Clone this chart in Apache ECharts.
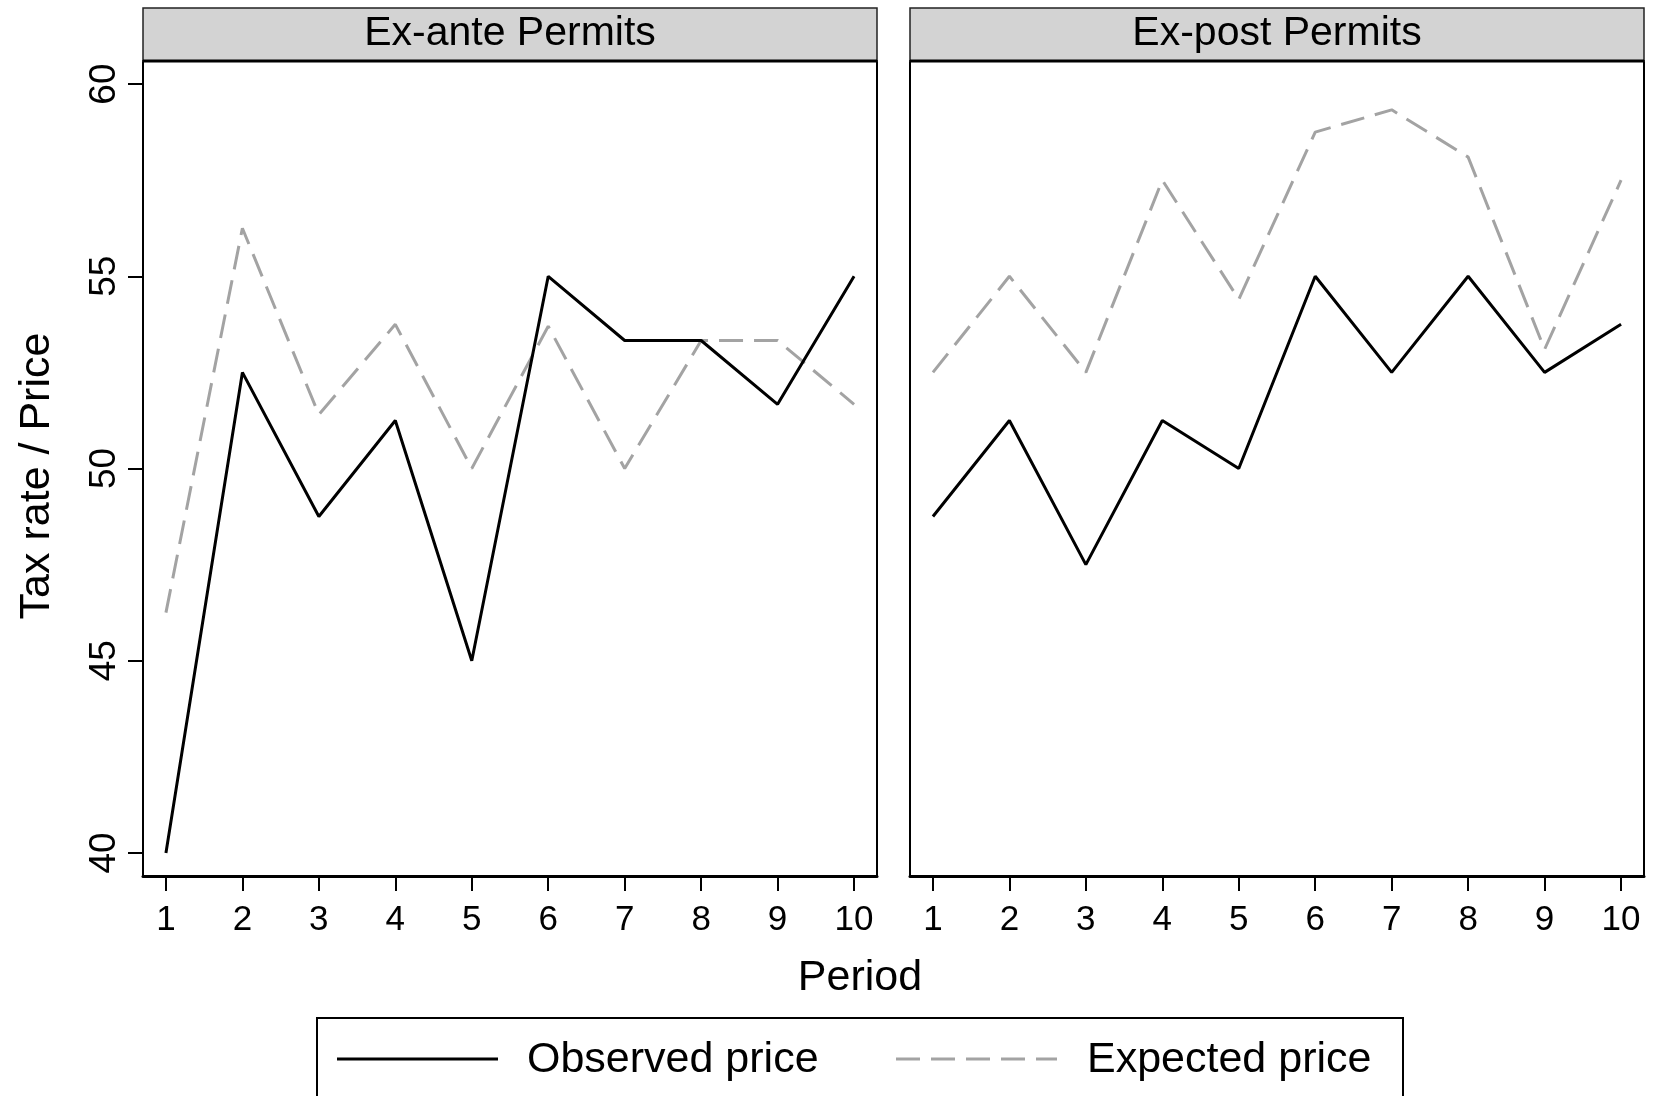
<!DOCTYPE html>
<html>
<head>
<meta charset="utf-8">
<title>Tax rate / Price by Period</title>
<script src="https://cdn.jsdelivr.net/npm/echarts@6/dist/echarts.min.js"></script>
<style>
  html, body { margin: 0; padding: 0; background: #fff; }
  #chart { width: 1653px; height: 1096px; }
</style>
</head>
<body>
<div id="chart"></div>
<script>
// Periods on the x axis
const periods = [1, 2, 3, 4, 5, 6, 7, 8, 9, 10];
const yTicks = [40, 45, 50, 55, 60];

// Ex-ante permits
const exAnteObserved = [40, 52.5, 48.75, 51.25, 45, 55, 53.33, 53.33, 51.67, 55];
const exAnteExpected = [46.25, 56.25, 51.4, 53.75, 50, 53.7, 50, 53.33, 53.33, 51.67];

// Ex-post permits
const exPostObserved = [48.75, 51.25, 47.5, 51.25, 50, 55, 52.5, 55, 52.5, 53.75];
const exPostExpected = [52.5, 55, 52.5, 57.5, 54.4, 58.75, 59.33, 58.1, 53.1, 57.5];

const panelTitles = ['Ex-ante Permits', 'Ex-post Permits'];
const seriesNames = ['Observed price', 'Expected price'];

const FONT = '"Liberation Sans", Arial, Helvetica, sans-serif';
const OBS_COLOR = '#000000';
const EXP_COLOR = '#a3a3a3';
const DASH = [24, 11];

const pairs = (vals) => periods.map((p, i) => [p, vals[i]]);

const panels = [
  { left: 143, top: 61, width: 734, height: 815 },
  { left: 910, top: 61, width: 734, height: 815 }
];

function xAxisFor(idx) {
  return {
    type: 'value', gridIndex: idx, min: 0.7, max: 10.3,
    splitLine: { show: false },
    axisLine: { show: true, onZero: false, lineStyle: { color: '#000', width: 3 } },
    axisTick: { show: true, length: 15, customValues: periods, lineStyle: { color: '#000', width: 2 } },
    axisLabel: { show: true, customValues: periods, margin: 27, color: '#000', fontSize: 35, fontFamily: FONT }
  };
}
function yAxisFor(idx, labelled) {
  return {
    type: 'value', gridIndex: idx, min: 39.4, max: 60.6,
    splitLine: { show: false },
    axisLine: { show: labelled, onZero: false, lineStyle: { color: '#000', width: 2 } },
    axisTick: { show: labelled, length: 15, customValues: yTicks, lineStyle: { color: '#000', width: 2 } },
    axisLabel: { show: labelled, customValues: yTicks, rotate: 90, margin: 20, color: '#000', fontSize: 37, fontFamily: FONT }
  };
}

function lineSeries(name, idx, vals, color, dashed) {
  return {
    name: name, type: 'line', xAxisIndex: idx, yAxisIndex: idx,
    data: pairs(vals), symbol: 'none', silent: true,
    lineStyle: { color: color, width: 3, type: dashed ? DASH : 'solid' },
    z: dashed ? 2 : 3
  };
}

// Panel header strips, outer titles and the legend box
const graphics = [];
panels.forEach((p, i) => {
  graphics.push({
    type: 'rect', shape: { x: p.left, y: 8, width: p.width, height: p.top - 8 },
    style: { fill: '#d3d3d3', stroke: '#222', lineWidth: 1.5 }, z: 10
  });
  graphics.push({
    type: 'text', x: p.left + p.width / 2, y: 34,
    style: { text: panelTitles[i], fill: '#000', font: '41px ' + FONT, align: 'center', verticalAlign: 'middle' }, z: 11
  });
  graphics.push({
    type: 'line', shape: { x1: p.left, y1: p.top, x2: p.left + p.width, y2: p.top },
    style: { stroke: '#000', lineWidth: 3 }, z: 11
  });
});
graphics.push({
  type: 'text', x: 860, y: 978,
  style: { text: 'Period', fill: '#000', font: '43px ' + FONT, align: 'center', verticalAlign: 'middle' }
});
graphics.push({
  type: 'text', x: 37, y: 476, rotation: Math.PI / 2,
  style: { text: 'Tax rate / Price', fill: '#000', font: '43px ' + FONT, align: 'center', verticalAlign: 'middle' }
});
// Legend
graphics.push({
  type: 'rect', shape: { x: 317, y: 1018, width: 1086, height: 140 },
  style: { fill: '#fff', stroke: '#000', lineWidth: 2 }
});
graphics.push({
  type: 'line', shape: { x1: 337, y1: 1059, x2: 498, y2: 1059 },
  style: { stroke: OBS_COLOR, lineWidth: 3 }
});
graphics.push({
  type: 'text', x: 527, y: 1060,
  style: { text: seriesNames[0], fill: '#000', font: '43px ' + FONT, align: 'left', verticalAlign: 'middle' }
});
graphics.push({
  type: 'line', shape: { x1: 896, y1: 1059, x2: 1057, y2: 1059 },
  style: { stroke: EXP_COLOR, lineWidth: 3, lineDash: DASH }
});
graphics.push({
  type: 'text', x: 1087, y: 1060,
  style: { text: seriesNames[1], fill: '#000', font: '43px ' + FONT, align: 'left', verticalAlign: 'middle' }
});

const chart = echarts.init(document.getElementById('chart'), null, { renderer: 'canvas' });
chart.setOption({
  backgroundColor: '#fff',
  animation: false,
  grid: panels.map(p => ({ left: p.left, top: p.top, width: p.width, height: p.height, show: true, borderColor: '#000', borderWidth: 2, backgroundColor: '#fff' })),
  xAxis: [xAxisFor(0), xAxisFor(1)],
  yAxis: [yAxisFor(0, true), yAxisFor(1, false)],
  series: [
    lineSeries(seriesNames[1], 0, exAnteExpected, EXP_COLOR, true),
    lineSeries(seriesNames[0], 0, exAnteObserved, OBS_COLOR, false),
    lineSeries(seriesNames[1], 1, exPostExpected, EXP_COLOR, true),
    lineSeries(seriesNames[0], 1, exPostObserved, OBS_COLOR, false)
  ],
  graphic: graphics
});
</script>
</body>
</html>
